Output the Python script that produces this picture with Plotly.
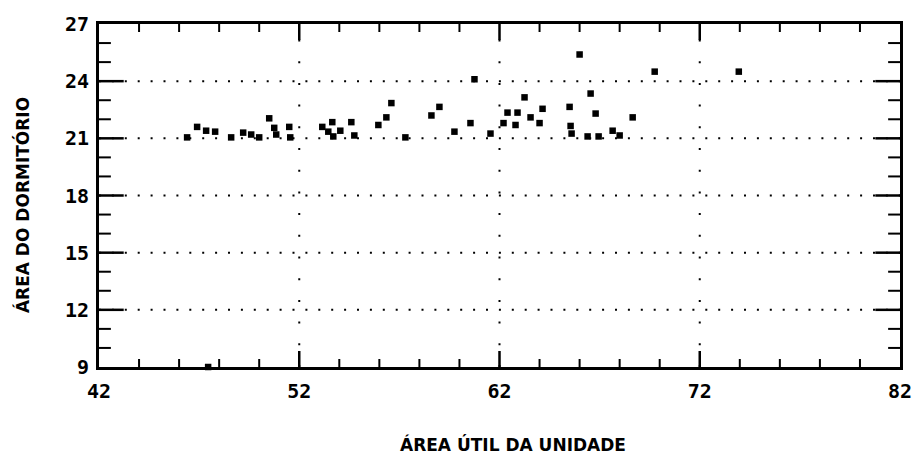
import plotly.graph_objects as go

# Unit floor area (x) against bedroom area (y), one point per unit
area_util = [
    46.4, 46.9, 47.35, 47.8, 48.6, 49.2, 49.6, 50.0, 50.5, 50.75,
    50.85, 51.5, 51.55, 53.15, 53.45, 53.65, 53.7, 54.05, 54.6, 54.75,
    55.95, 56.35, 56.6, 57.3, 58.6, 59.0, 59.75, 60.55, 60.75, 61.55,
    62.2, 62.4, 62.8, 62.9, 63.25, 63.55, 64.0, 64.15, 65.5, 65.55,
    65.6, 66.0, 66.55, 66.8, 66.4, 66.95, 67.65, 68.0, 68.65, 69.75,
    73.95, 47.45,
]
area_dormitorio = [
    21.05, 21.6, 21.4, 21.35, 21.05, 21.3, 21.2, 21.05, 22.05, 21.55,
    21.2, 21.6, 21.05, 21.6, 21.35, 21.85, 21.1, 21.4, 21.85, 21.15,
    21.7, 22.1, 22.85, 21.05, 22.2, 22.65, 21.35, 21.8, 24.1, 21.25,
    21.8, 22.35, 21.7, 22.35, 23.15, 22.1, 21.8, 22.55, 22.65, 21.65,
    21.25, 25.4, 23.35, 22.3, 21.1, 21.1, 21.4, 21.15, 22.1, 24.5,
    24.5, 9.0,
]

x_ticks = [42, 52, 62, 72, 82]
y_ticks = [9, 12, 15, 18, 21, 24, 27]
x_minor_step = 2
y_minor_step = 1
x_title = "ÁREA ÚTIL DA UNIDADE"
y_title = "ÁREA DO DORMITÓRIO"

W, H = 924, 458
M = dict(l=99, r=15, t=24, b=91)

tick_font = dict(family="DejaVu Sans Mono", size=20, color="black", weight="bold")
title_font = dict(family="DejaVu Sans", size=17, color="black", weight="bold")

x0, x1 = x_ticks[0], x_ticks[-1]
y0, y1 = y_ticks[0], y_ticks[-1]

# pixel -> data conversion for the tick lengths
px_per_x = (W - M["l"] - M["r"]) / (x1 - x0)
px_per_y = (H - M["t"] - M["b"]) / (y1 - y0)

x_minor = [v for v in range(x0, x1 + 1, x_minor_step) if v not in x_ticks]
y_minor = [v for v in range(y0, y1 + 1, y_minor_step) if v not in y_ticks]


def x_tick_segments(values, length_px):
    # inward ticks on the bottom and top frame edges
    d = length_px / px_per_y
    xs, ys = [], []
    for v in values:
        xs += [v, v, None, v, v, None]
        ys += [y0, y0 + d, None, y1, y1 - d, None]
    return xs, ys


def y_tick_segments(values, length_px):
    # inward ticks on the left and right frame edges
    d = length_px / px_per_x
    xs, ys = [], []
    for v in values:
        xs += [x0, x0 + d, None, x1, x1 - d, None]
        ys += [v, v, None, v, v, None]
    return xs, ys


fig = go.Figure()

for (xs, ys), width in (
    (x_tick_segments(x_ticks[1:-1], 16), 2.5),
    (x_tick_segments(x_minor, 8), 2),
    (y_tick_segments(y_ticks[1:-1], 25), 2.5),
    (y_tick_segments(y_minor, 12), 2),
):
    fig.add_trace(go.Scatter(
        x=xs, y=ys, mode="lines", line=dict(color="black", width=width),
        hoverinfo="skip", showlegend=False,
    ))

fig.add_trace(
    go.Scatter(
        x=area_util,
        y=area_dormitorio,
        mode="markers",
        marker=dict(symbol="square", size=6.5, color="black"),
        cliponaxis=False,
        showlegend=False,
    )
)

# Dotted grid through the interior major ticks
shapes = []
for xv in x_ticks[1:-1]:
    shapes.append(dict(
        type="line", xref="x", yref="paper", x0=xv, x1=xv, y0=0, y1=1,
        line=dict(color="black", width=2, dash="2px,19.7px"), layer="below",
    ))
for yv in y_ticks[1:-1]:
    shapes.append(dict(
        type="line", xref="paper", yref="y", x0=0, x1=1, y0=yv, y1=yv,
        line=dict(color="black", width=2, dash="2px,10.9px"), layer="below",
    ))

axis_common = dict(
    ticks="",
    showline=True,
    linewidth=3,
    linecolor="black",
    mirror=True,
    showgrid=False,
    zeroline=False,
    tickfont=tick_font,
)

fig.update_layout(
    width=W,
    height=H,
    margin=M,
    plot_bgcolor="white",
    shapes=shapes,
    xaxis=dict(
        range=[x0, x1],
        tickvals=x_ticks,
        ticklabelstandoff=4,
        **axis_common,
    ),
    yaxis=dict(
        range=[y0, y1],
        tickvals=y_ticks,
        ticklabelstandoff=3,
        **axis_common,
    ),
    annotations=[
        dict(text=x_title, xref="paper", yref="paper", x=0.517, y=0,
             xanchor="center", yanchor="middle", yshift=-77,
             showarrow=False, font=title_font),
        dict(text=y_title, xref="paper", yref="paper", x=0, y=0.472,
             xanchor="center", yanchor="middle", xshift=-77,
             textangle=-90, showarrow=False, font=title_font),
    ],
)

fig.write_html("out.html")
